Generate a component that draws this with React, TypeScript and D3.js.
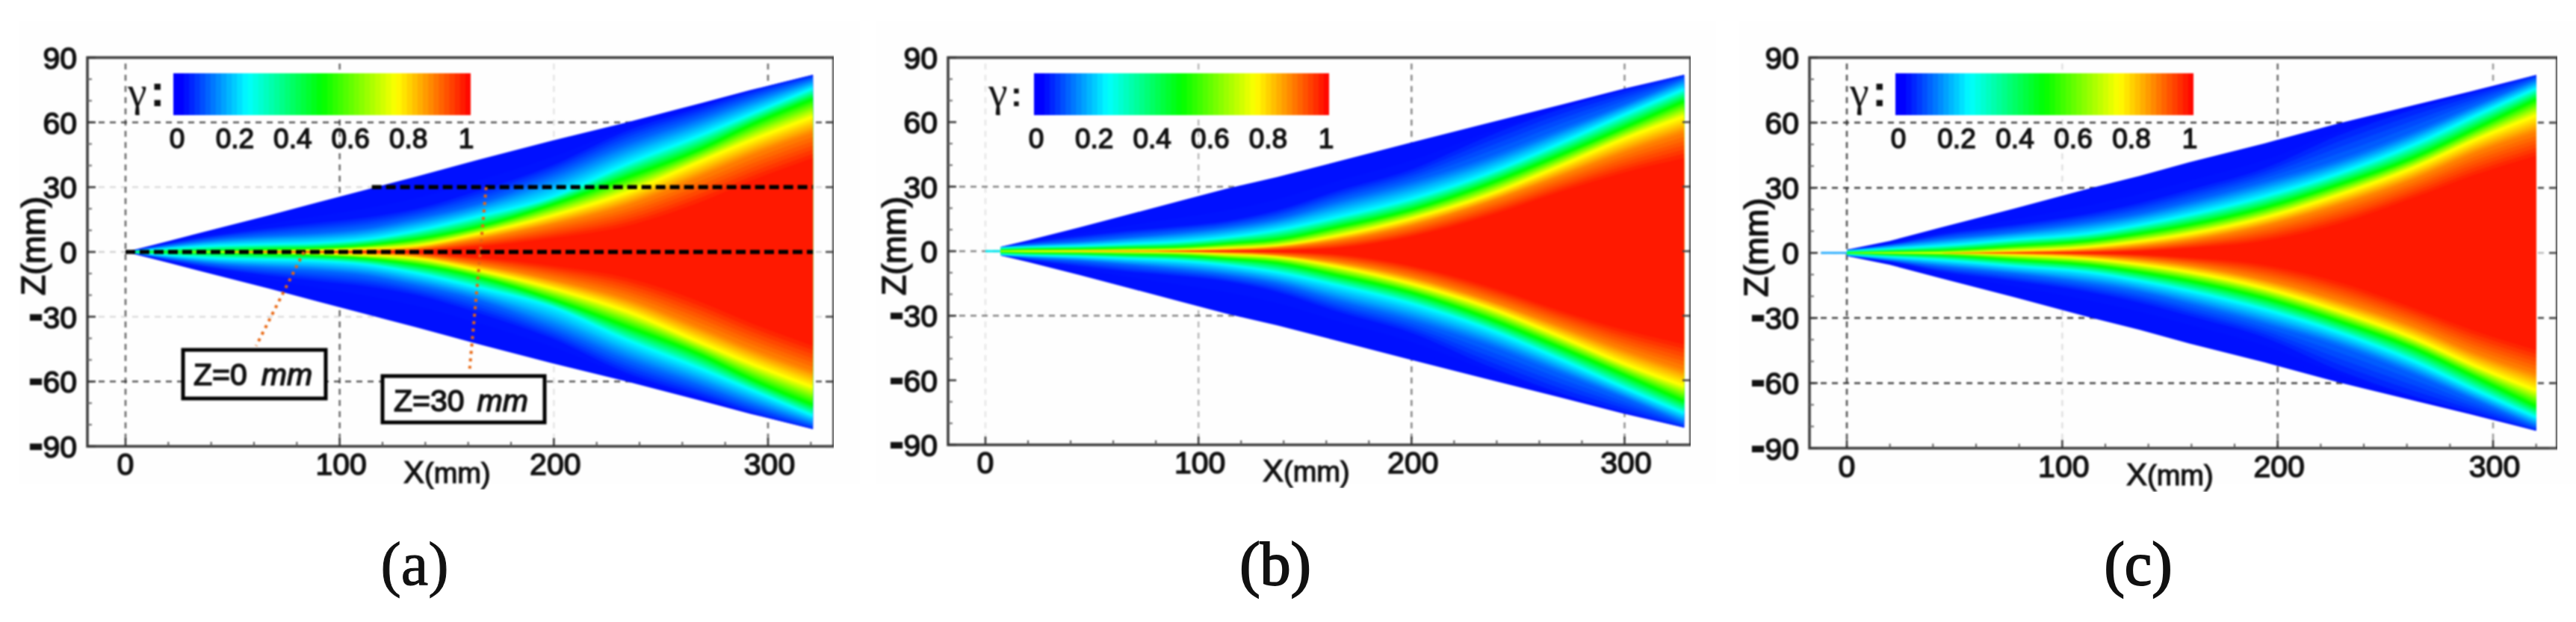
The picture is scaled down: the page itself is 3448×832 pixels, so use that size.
import React from "react";
import * as d3 from "d3";

// ---------- data ----------
const xTicks = [0, 100, 200, 300];
const zTicks = [90, 60, 30, 0, -30, -60, -90];
const barTicks = [0, 0.2, 0.4, 0.6, 0.8, 1];
const xMinor = [20, 40, 60, 80, 120, 140, 160, 180, 220, 240, 260, 280, 320];
const zMinor = [80, 70, 50, 40, 20, 10, -10, -20, -40, -50, -70, -80];
const levelGammas = [0, 0.05, 0.12, 0.25, 0.5, 0.75, 0.88, 1];

// half-width z (mm) of each gamma contour at each station x (mm)
const aX = [0, 20, 44, 67, 90, 113, 136, 164, 199, 234, 269, 292, 321];
const aEdge = [0, 5, 11.2, 17, 23, 29, 35, 42.5, 51.5, 60, 69, 75, 82];
const aDeep = [0, 4, 8, 11, 13.5, 16, 20, 28, 40, 56, 67, 74.5, 82];
const aBlue = [0, 3, 5.9, 7.5, 8.8, 11, 15.5, 22, 34.7, 49.7, 62, 70.5, 80];
const aCyan = [0, 1.6, 3, 3.6, 4.2, 6, 10, 16.5, 25.5, 41, 54.5, 64, 76];
const aGreen = [0, 0, 0.5, 1.2, 1.8, 3.2, 6, 11.5, 22, 34.7, 48, 59, 71];
const aYellow = [0, 0, 0, 0.3, 0.7, 1.5, 3, 8.5, 17, 27.8, 42.5, 52, 63];
const aOrange = [0, 0, 0, 0.1, 0.2, 0.6, 1.6, 5.8, 12.8, 21.8, 35.5, 45, 55.5];
const aRed = [0, 0, 0, 0, 0, 0, 0.3, 1.8, 5.3, 10.5, 21.4, 31, 41.6];

const bX = [7, 20, 44, 67, 90, 113, 137, 165, 200, 235, 270, 299.5, 328];
const bEdge = [2, 5, 11, 17, 23, 29, 34.5, 41.6, 50.6, 59.3, 68, 75.5, 82];
const bDeep = [2, 4, 7, 9.5, 11.5, 14, 19, 28, 38, 53, 66, 74.5, 82];
const bBlue = [1.9, 3, 4.4, 6.3, 8.4, 11, 15, 23, 32, 43, 56.5, 68, 80];
const bCyan = [1.7, 2, 2.5, 3.4, 4.4, 6.5, 10, 16, 24.6, 36, 50.5, 63.5, 75.5];
const bGreen = [0.3, 0.8, 1, 1.5, 2, 3.5, 5.5, 11.3, 19.4, 31, 45, 57.5, 70];
const bYellow = [0, 0, 0.1, 0.3, 0.5, 1.5, 2.7, 7.3, 15.4, 26, 40, 52.5, 63];
const bOrange = [0, 0, 0, 0, 0.1, 0.5, 1.7, 5, 12, 22.5, 35, 46, 55.5];
const bRed = [0, 0, 0, 0, 0, 0, 0.1, 0.9, 6, 15, 26.5, 35, 41.4];

const cX = [0, 20, 43, 78, 112, 136, 159, 194, 228, 263, 292, 320];
const cEdge = [1.5, 5.5, 11.5, 20.5, 29.5, 35.5, 41.8, 50.5, 59.6, 68, 75, 82];
const cDeep = [1.4, 4, 8.5, 13, 18, 23, 29, 39, 54, 66, 74, 82];
const cBlue = [1.2, 3.5, 6.2, 9.7, 14, 18, 23.4, 32.6, 42.4, 55.5, 68, 80];
const cCyan = [0.9, 2, 3.3, 6.2, 9, 13, 17.7, 26.3, 36.7, 50, 63.5, 76];
const cGreen = [0, 0.5, 1, 3.3, 5.6, 9, 13, 21, 31.5, 44, 57.5, 71];
const cYellow = [0, 0, 0, 1, 2.8, 5.5, 9, 16.5, 26.9, 39.5, 52.5, 63.7];
const cOrange = [0, 0, 0, 0.2, 1.2, 3, 5.8, 12.5, 22, 34, 46.5, 56];
const cRed = [0, 0, 0, 0, 0, 0.4, 1.6, 4.5, 12, 24, 34.5, 43];

// annotations of panel (a)
const refLineZ = [0, 30];
const refLineStart = [0, 115];
const refLineEnd = [321, 321];
const leaderFrom = [[83.3, 0], [168.4, 30]];
const leaderTo = [[61, -43.5], [160.7, -54]];

// ---------- layout & style ----------
const panels = [
  {
    id: "a", caption: "(a)", captionX: 555, bg: [26, 28, 1125, 620],
    left: 117, right: 1116, top: 77, bottom: 597, x0: 168, x300: 1028,
    barL: 232, barR: 630, lab0: 237, lab1: 624, gammaX: 171,
    stations: aX, levels: [aEdge, aDeep, aBlue, aCyan, aGreen, aYellow, aOrange, aRed],
    xGrid: [0.75, 0.75, 0.12, 0.7], zGrid: { 60: 0.75, 30: 0.15, 0: 0.2, "-30": 0.15, "-60": 0.75 },
    stub: null, xTitle: 540, zTitleX: 60, zTitleY: 329,
  },
  {
    id: "b", caption: "(b)", captionX: 1707, bg: [1172, 28, 1125, 620],
    left: 1269, right: 2263, top: 77, bottom: 595, x0: 1319, x300: 2174.5,
    barL: 1384, barR: 1779, lab0: 1387, lab1: 1775, gammaX: 1323,
    stations: bX, levels: [bEdge, bDeep, bBlue, bCyan, bGreen, bYellow, bOrange, bRed],
    xGrid: [0.12, 0.35, 0.6, 0.55], zGrid: { 30: 0.55, 0: 0.55, "-30": 0.55 },
    stub: { from: 0, to: 7, color: "#00e8f0" }, xTitle: 1690, zTitleX: 1212, zTitleY: 329,
  },
  {
    id: "c", caption: "(c)", captionX: 2862, bg: [2328, 28, 1120, 620],
    left: 2422, right: 3423, top: 77, bottom: 599.5, x0: 2472, x300: 3337,
    barL: 2537, barR: 2936, lab0: 2541, lab1: 2931, gammaX: 2476,
    stations: cX, levels: [cEdge, cDeep, cBlue, cCyan, cGreen, cYellow, cOrange, cRed],
    xGrid: [0.85, 0.15, 0.75, 0.5], zGrid: { 60: 0.85, 30: 0.85, 0: 0.3, "-30": 0.85, "-60": 0.85 },
    stub: { from: -12, to: 0, color: "#30b0ff" }, xTitle: 2846, zTitleX: 2366, zTitleY: 331,
  },
];

const SANS = "'Liberation Sans', Arial, sans-serif";
const SERIF = "'Liberation Serif', 'Times New Roman', serif";
const INK = "#111";
const HEAVY = 1.5;

const barColor = d3.scaleLinear<string>()
  .domain([0, 0.03, 0.25, 0.5, 0.75, 1])
  .range(["#0000ff", "#0000ff", "#00ffff", "#00ff00", "#ffff00", "#ff0000"])
  .interpolate(d3.interpolateRgb as any);
const fieldColor = d3.scaleLinear<string>()
  .domain([0, 0.03, 0.25, 0.5, 0.75, 0.98, 1])
  .range(["#0010ff", "#0010ff", "#00ffff", "#00ff00", "#ffff00", "#ff1900", "#ff1900"])
  .interpolate(d3.interpolateRgb as any);

const FIELD_STEPS = d3.range(1, 61).map((i) => i / 60);
const BAR_COUNT = 56;
const BAR_STEPS = d3.range(0, BAR_COUNT).map((i) => i / BAR_COUNT);

function Panel({ p }: { p: (typeof panels)[number] }) {
  const x = d3.scaleLinear().domain([0, 300]).range([p.x0, p.x300]);
  const z = d3.scaleLinear().domain([-90, 90]).range([p.bottom, p.top]);
  const bar = d3.scaleLinear().domain([0, 1]).range([p.barL, p.barR]);
  const barLab = d3.scaleLinear().domain([0, 1]).range([p.lab0, p.lab1]);

  const halfAt = (g: number) =>
    p.stations.map((_, i) =>
      d3.scaleLinear().domain(levelGammas).range(p.levels.map((l) => l[i]))(g)
    );
  const areaOf = (half: number[], curve: d3.CurveFactory) =>
    d3.area<number>()
      .x((_, i) => x(p.stations[i]))
      .y0((d) => z(-d))
      .y1((d) => z(d))
      .curve(curve)(half) as string;

  return (
    <g>
      <rect x={p.bg[0]} y={p.bg[1]} width={p.bg[2]} height={p.bg[3]} fill="#fefefe" />
      <g filter="url(#soft)">
        {/* grid */}
        {xTicks.map((t, i) => (
          <line key={t} x1={x(t)} x2={x(t)} y1={p.top + 8} y2={p.bottom} stroke="#333"
            strokeOpacity={p.xGrid[i]} strokeWidth={2.5} strokeDasharray="8 7" />
        ))}
        {Object.entries(p.zGrid).map(([t, o]) => (
          <line key={t} x1={p.left} x2={p.right} y1={z(+t)} y2={z(+t)} stroke="#222"
            strokeOpacity={o as number} strokeWidth={2.5} strokeDasharray="8 7" />
        ))}

        {/* field */}
        {p.stub && (
          <line x1={x(p.stub.from)} x2={x(p.stub.to)} y1={z(0)} y2={z(0)} stroke={p.stub.color} strokeWidth={3} />
        )}
        <clipPath id={`wedge-${p.id}`}>
          <path d={areaOf(p.levels[0], d3.curveLinear)} />
        </clipPath>
        <path d={areaOf(p.levels[0], d3.curveLinear)} fill={fieldColor(0)} />
        <g clipPath={`url(#wedge-${p.id})`}>
          {FIELD_STEPS.map((g) => (
            <path key={g} d={areaOf(halfAt(g), d3.curveMonotoneX)} fill={fieldColor(g)} />
          ))}
        </g>

        {/* frame and ticks */}
        <rect x={p.left} y={p.top} width={p.right - p.left} height={p.bottom - p.top}
          fill="none" stroke="#3a3a3a" strokeWidth={3.5} />
        {xTicks.map((t) => (
          <line key={t} x1={x(t)} x2={x(t)} y1={p.bottom} y2={p.bottom - 11} stroke="#333" strokeWidth={2.5} />
        ))}
        {xMinor.map((t) => (
          <line key={t} x1={x(t)} x2={x(t)} y1={p.bottom} y2={p.bottom - 6} stroke="#555" strokeWidth={2} />
        ))}
        {zTicks.map((t) => (
          <g key={t}>
            <line x1={p.left} x2={p.left + 11} y1={z(t)} y2={z(t)} stroke="#333" strokeWidth={2.5} />
            <line x1={p.right} x2={p.right - 11} y1={z(t)} y2={z(t)} stroke="#444" strokeWidth={2.5} />
          </g>
        ))}
        {zMinor.map((t) => (
          <line key={t} x1={p.left} x2={p.left + 6} y1={z(t)} y2={z(t)} stroke="#666" strokeWidth={2} />
        ))}

        {/* axis labels */}
        {xTicks.map((t) => (
          <text key={t} x={x(t) + (t ? 2 : 0)} y={p.bottom + 38} textAnchor="middle" fontFamily={SANS}
            fontSize={41} fill={INK} stroke={INK} strokeWidth={HEAVY}>{t}</text>
        ))}
        {zTicks.map((t) => (
          <text key={t} x={p.left - 14} y={z(t) + 15} textAnchor="end" fontFamily={SANS}
            fontSize={41} fill={INK} stroke={INK} strokeWidth={HEAVY}>
            {t < 0 ? (
              <>
                <tspan fontWeight="bold" fontSize={56} strokeWidth={2}>-</tspan>
                {Math.abs(t)}
              </>
            ) : t}
          </text>
        ))}
        <text x={p.xTitle} y={p.bottom + 49} fontFamily={SANS} fontSize={38} fill={INK} stroke={INK} strokeWidth={1.2}>
          <tspan fontSize={42}>X</tspan>(mm)
        </text>
        <text transform={`translate(${p.zTitleX},${p.zTitleY}) rotate(-90)`} textAnchor="middle"
          fontFamily={SANS} fontSize={45} fill={INK} stroke={INK} strokeWidth={HEAVY}>Z(mm)</text>

        {/* colour bar */}
        {BAR_STEPS.map((g, i) => (
          <rect key={g} x={bar(g)} y={98} width={bar(1 / BAR_COUNT) - bar(0) + (i < BAR_COUNT - 1 ? 1 : 0)} height={56}
            fill={barColor(g + 1 / (2 * BAR_COUNT))} />
        ))}
        {barTicks.map((t) => (
          <text key={t} x={barLab(t)} y={198} textAnchor="middle" fontFamily={SANS} fontSize={37}
            fill={INK} stroke={INK} strokeWidth={HEAVY}>{t}</text>
        ))}
        <text x={p.gammaX} y={142} fontFamily={SERIF} fontSize={58} fill={INK}>
          γ<tspan dx={4} fontFamily={SANS} fontWeight="bold" fontSize={p.id === "b" ? 46 : 60}>:</tspan>
        </text>

        {/* annotations */}
        {p.id === "a" && (
          <g>
            {refLineZ.map((t, i) => (
              <line key={t} x1={x(refLineStart[i])} x2={x(refLineEnd[i])} y1={z(t)} y2={z(t)}
                stroke="#000" strokeWidth={5.5} strokeDasharray="13 6" />
            ))}
            {leaderFrom.map((f, i) => (
              <line key={i} x1={x(f[0])} y1={z(f[1])} x2={x(leaderTo[i][0])} y2={z(leaderTo[i][1])}
                stroke="#e8650f" strokeWidth={4} strokeDasharray="4 6" />
            ))}
            <rect x={245} y={468} width={191} height={65} fill="#fff" stroke="#000" strokeWidth={5} />
            <text x={259} y={515} fontFamily={SANS} fontSize={41} fill={INK} stroke={INK} strokeWidth={HEAVY}>
              Z=0<tspan dx={19} fontStyle="italic">mm</tspan>
            </text>
            <rect x={512} y={503} width={217} height={62} fill="#fff" stroke="#000" strokeWidth={5} />
            <text x={527} y={550} fontFamily={SANS} fontSize={41} fill={INK} stroke={INK} strokeWidth={HEAVY}>
              Z=30<tspan dx={17} fontStyle="italic">mm</tspan>
            </text>
          </g>
        )}
      </g>

      <text x={p.captionX} y={782} textAnchor="middle" fontFamily={SERIF} fontSize={82} fill="#111"
        stroke="#111" strokeWidth={p.id === "a" ? 1 : 2}>{p.caption}</text>
    </g>
  );
}

export default function App() {
  return (
    <svg width={3448} height={832} viewBox="0 0 3448 832"
      style={{ position: "absolute", left: 0, top: 0, display: "block", background: "#fff" }}>
      <defs>
        <filter id="soft" x="0" y="0" width="1" height="1" filterUnits="objectBoundingBox" colorInterpolationFilters="sRGB">
          <feGaussianBlur stdDeviation={0.9} />
        </filter>
      </defs>
      {panels.map((p) => <Panel key={p.id} p={p} />)}
    </svg>
  );
}
